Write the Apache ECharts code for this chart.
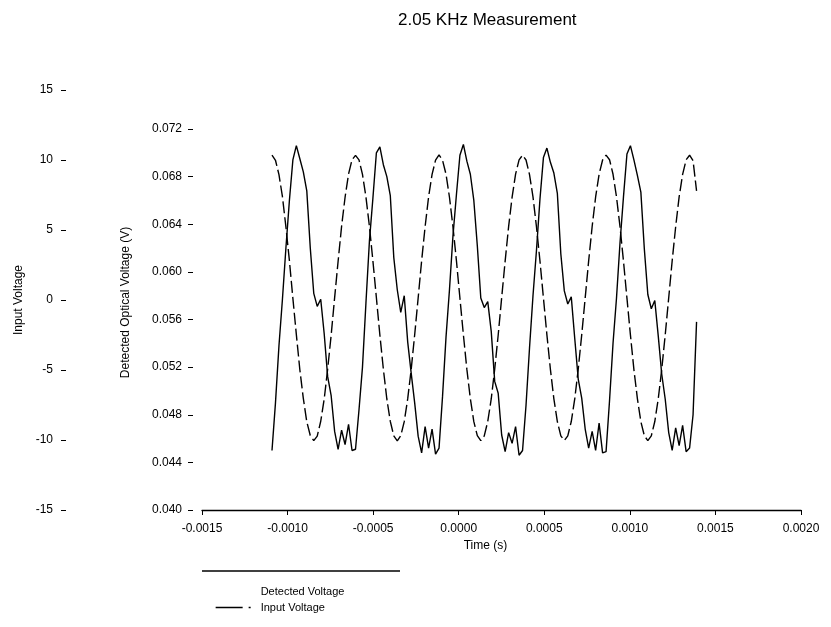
<!DOCTYPE html>
<html>
<head>
<meta charset="utf-8">
<script src="https://cdn.jsdelivr.net/npm/echarts@6/dist/echarts.min.js"></script>
<style>
  html, body { margin: 0; padding: 0; background: #fff; }
  #chart { width: 831px; height: 627px; }
</style>
</head>
<body>
<div id="chart"></div>
<script>
// sample times in microseconds
const timeUs = [
  -1091.0, -1070.7, -1050.3, -1030.0, -1009.7, -989.3, -969.0, -948.7, -928.3, -908.0, -887.7, -867.3,
  -847.0, -826.7, -806.3, -786.0, -765.7, -745.3, -725.0, -704.7, -684.3, -664.0, -643.7, -623.3,
  -603.0, -582.7, -562.3, -542.0, -521.7, -501.3, -481.0, -460.7, -440.3, -420.0, -399.7, -379.3,
  -359.0, -338.7, -318.3, -298.0, -277.7, -257.3, -237.0, -216.7, -196.3, -176.0, -155.7, -135.3,
  -115.0, -94.7, -74.3, -54.0, -33.7, -13.3, 7.0, 27.3, 47.7, 68.0, 88.3, 108.7,
  129.0, 149.3, 169.7, 190.0, 210.3, 230.7, 251.0, 271.3, 291.7, 312.0, 332.3, 352.7,
  373.0, 393.3, 413.7, 434.0, 454.3, 474.7, 495.0, 515.3, 535.7, 556.0, 576.3, 596.7,
  617.0, 637.3, 657.7, 678.0, 698.3, 718.7, 739.0, 759.3, 779.7, 800.0, 820.3, 840.7,
  861.0, 881.3, 901.7, 922.0, 942.3, 962.7, 983.0, 1003.3, 1023.7, 1044.0, 1064.3, 1084.7,
  1105.0, 1125.3, 1145.7, 1166.0, 1186.3, 1206.7, 1227.0, 1247.3, 1267.7, 1288.0, 1308.3, 1328.7,
  1349.0, 1369.3, 1389.7
];

const inputVoltage = [
  10.35, 9.98, 8.95, 7.38, 5.22, 2.81, 0.12, -2.47, -4.98, -7.03, -8.70, -9.68,
  -10.04, -9.72, -8.66, -7.08, -4.93, -2.51, 0.17, 2.77, 5.27, 7.34, 9.00, 10.02,
  10.33, 10.01, 8.97, 7.35, 5.26, 2.78, 0.16, -2.50, -4.94, -7.07, -8.67, -9.71,
  -10.06, -9.69, -8.69, -7.05, -4.96, -2.48, 0.14, 2.80, 5.24, 7.37, 8.97, 9.99,
  10.36, 9.99, 8.99, 7.34, 5.24, 2.80, 0.14, -2.48, -4.96, -7.05, -8.69, -9.69,
  -10.05, -9.71, -8.67, -7.07, -4.94, -2.50, 0.16, 2.78, 5.26, 7.35, 8.99, 10.01,
  10.34, 10.00, 8.96, 7.37, 5.23, 2.79, 0.15, -2.49, -4.95, -7.06, -8.68, -9.70,
  -10.03, -9.70, -8.68, -7.06, -4.95, -2.49, 0.15, 2.79, 5.25, 7.36, 8.98, 10.00,
  10.35, 10.02, 8.98, 7.36, 5.25, 2.78, 0.13, -2.49, -4.97, -7.04, -8.69, -9.70,
  -10.04, -9.71, -8.68, -7.05, -4.95, -2.48, 0.16, 2.80, 5.24, 7.37, 8.97, 10.01,
  10.34, 9.95, 7.80
];

const detectedVoltage = [
  0.0450, 0.0490, 0.0538, 0.0577, 0.0620, 0.0660, 0.0694, 0.0706, 0.0695, 0.0684, 0.0668, 0.0620,
  0.0582, 0.0571, 0.0577, 0.0548, 0.0512, 0.0496, 0.0466, 0.0451, 0.0467, 0.0455, 0.0472, 0.0450,
  0.0451, 0.0484, 0.0520, 0.0574, 0.0626, 0.0662, 0.0700, 0.0705, 0.0690, 0.0680, 0.0664, 0.0612,
  0.0585, 0.0566, 0.0580, 0.0541, 0.0515, 0.0490, 0.0462, 0.0448, 0.0470, 0.0452, 0.0468, 0.0447,
  0.0452, 0.0495, 0.0545, 0.0585, 0.0630, 0.0665, 0.0698, 0.0707, 0.0693, 0.0682, 0.0660, 0.0622,
  0.0578, 0.0570, 0.0575, 0.0550, 0.0508, 0.0498, 0.0463, 0.0449, 0.0465, 0.0456, 0.0470, 0.0446,
  0.0450, 0.0488, 0.0536, 0.0580, 0.0618, 0.0661, 0.0696, 0.0704, 0.0692, 0.0683, 0.0666, 0.0615,
  0.0584, 0.0573, 0.0579, 0.0544, 0.0510, 0.0494, 0.0468, 0.0452, 0.0466, 0.0450, 0.0473, 0.0448,
  0.0449, 0.0492, 0.0540, 0.0578, 0.0624, 0.0663, 0.0699, 0.0706, 0.0694, 0.0681, 0.0667, 0.0619,
  0.0581, 0.0569, 0.0576, 0.0546, 0.0514, 0.0493, 0.0465, 0.0450, 0.0469, 0.0454, 0.0471, 0.0449,
  0.0452, 0.0480, 0.0558
];

const FONT = '"Liberation Sans", Arial, sans-serif';

const inputData = timeUs.map((t, i) => [t * 1e-6, inputVoltage[i]]);
const detectedData = timeUs.map((t, i) => [t * 1e-6, detectedVoltage[i]]);

const chart = echarts.init(document.getElementById('chart'));

chart.setOption({
  animation: false,
  backgroundColor: '#fff',
  textStyle: { fontFamily: FONT, color: '#000' },
  title: {
    text: '2.05 KHz Measurement',
    left: 393,
    top: 7,
    textStyle: { fontSize: 17, fontWeight: 'normal', color: '#000', fontFamily: FONT }
  },
  legend: {
    orient: 'vertical',
    left: 210,
    top: 581,
    itemWidth: 40,
    itemHeight: 10,
    itemGap: 5,
    textStyle: { fontSize: 11, color: '#000', fontFamily: FONT },
    data: [
      { name: 'Detected Voltage', icon: 'none' },
      {
        name: 'Input Voltage',
        itemStyle: { opacity: 0 },
        lineStyle: { type: [27, 6, 2, 20], width: 1.3, color: '#000' }
      }
    ]
  },
  // sample line of the detected-voltage legend entry
  graphic: [{
    type: 'line',
    shape: { x1: 202, y1: 571, x2: 400, y2: 571 },
    style: { stroke: '#000', lineWidth: 1.3 }
  }],
  grid: [
    { left: 202, right: 30, top: 90, bottom: 117 },
    { left: 202, right: 30, top: 129, bottom: 117 }
  ],
  xAxis: [
    { gridIndex: 0, type: 'value', min: -0.0015, max: 0.002, show: false },
    {
      gridIndex: 1, type: 'value', min: -0.0015, max: 0.002, interval: 0.0005,
      name: 'Time (s)', nameLocation: 'middle', nameGap: 27,
      nameTextStyle: { fontSize: 12, color: '#000', padding: [0, 32, 0, 0] },
      axisLine: { onZero: false, lineStyle: { color: '#000', width: 1.3 } },
      axisTick: { length: 5, lineStyle: { color: '#000' } },
      axisLabel: { fontSize: 12, color: '#000', margin: 13, formatter: v => v.toFixed(4) },
      splitLine: { show: false }
    }
  ],
  yAxis: [
    {
      gridIndex: 0, type: 'value', min: -15, max: 15, interval: 5, position: 'left', offset: 136,
      name: 'Input Voltage', nameLocation: 'middle', nameGap: 40,
      nameTextStyle: { fontSize: 12, color: '#000' },
      axisLine: { show: false, onZero: false },
      axisTick: { show: true, length: 5, lineStyle: { color: '#000' } },
      axisLabel: { fontSize: 12, color: '#000', margin: 13 },
      splitLine: { show: false }
    },
    {
      gridIndex: 1, type: 'value', min: 0.04, max: 0.072, interval: 0.004, position: 'left', offset: 9,
      name: 'Detected Optical Voltage (V)', nameLocation: 'middle', nameGap: 61,
      nameTextStyle: { fontSize: 12, color: '#000', padding: [0, 0, 0, 34] },
      axisLine: { show: false, onZero: false },
      axisTick: { show: true, length: 5, lineStyle: { color: '#000' } },
      axisLabel: { fontSize: 12, color: '#000', margin: 11, formatter: v => v.toFixed(3) },
      splitLine: { show: false }
    }
  ],
  series: [
    {
      name: 'Detected Voltage', type: 'line', xAxisIndex: 1, yAxisIndex: 1,
      data: detectedData, symbol: 'none',
      lineStyle: { color: '#000', width: 1.4 },
      itemStyle: { color: '#000' }
    },
    {
      name: 'Input Voltage', type: 'line', xAxisIndex: 0, yAxisIndex: 0,
      data: inputData, symbol: 'none',
      lineStyle: { color: '#000', width: 1.4, type: [12, 4] },
      itemStyle: { color: '#000' }
    }
  ]
});
</script>
</body>
</html>
